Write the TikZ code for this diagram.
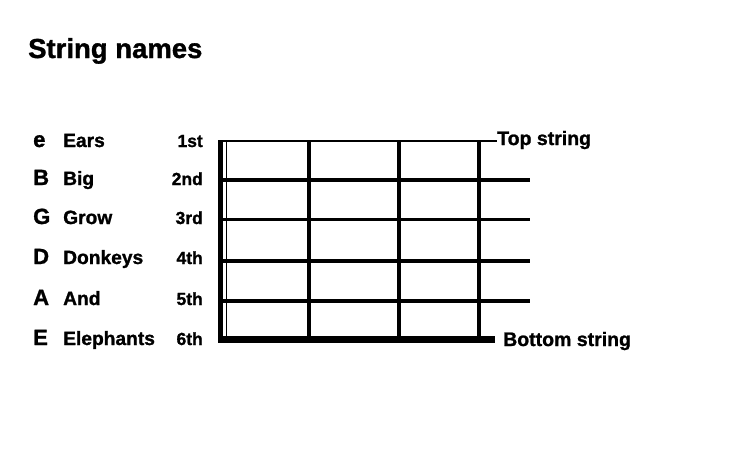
\documentclass[tikz,border=0pt]{standalone}
\usepackage{fontspec}
\setmainfont{Liberation Sans}[BoldFeatures={FakeBold=1.2}]

\begin{document}
\begin{tikzpicture}[x=1pt, y=-1pt,
    lbl/.style={font=\bfseries\fontsize{19.2}{21}\selectfont, inner sep=0pt},
    num/.style={font=\bfseries\fontsize{17.5}{20}\selectfont, inner sep=0pt, anchor=base east},
    note/.style={font=\bfseries\fontsize{19.5}{22}\selectfont, inner sep=0pt, anchor=base west},
    big/.style={font=\bfseries\fontsize{22}{24}\selectfont, inner sep=0pt, anchor=base west}]
      \useasboundingbox (0,0) rectangle (737,459);
      \node[anchor=base west, inner sep=0pt, font=\bfseries\fontsize{27.5}{30}\selectfont] (title) at (28,58) {String names};
      % letters, words and string numbers
      \foreach \l/\w/\n/\y in {e/Ears/1st/147, B/Big/2nd/185, G/Grow/3rd/224, D/Donkeys/4th/264, A/And/5th/305, E/Elephants/6th/345} {
            \node[big] (l\n) at (33,\y) {\l};
            \node[lbl, anchor=base west] (w\n) at (63,\y) {\w};
            \node[num] (n\n) at (203,\y) {\n};
      }
      % fretboard
      \node[note] (top) at (497,145) {Top string};
      \node[note] (bottom) at (503,346) {Bottom string};
      \coordinate (t0) at (218,141);
      \coordinate (b0) at (218,339.5);
      \draw[line width=1.5pt] (t0) -- (t0 -| top.west);
      \foreach \y in {180,219.5,261,301}
            \draw[line width=3.5pt] (218,\y) -- (530,\y);
      \foreach \x in {309,399,479}
            \draw[line width=4pt] (\x,141) -- (\x,339);
      \draw[line width=7.5pt] (b0) -- (495,339.5);
      \draw[line width=5pt] (220.5,140) -- (220.5,343);
      \draw[line width=1pt] (226,141) -- (226,336);
\end{tikzpicture}
\end{document}
